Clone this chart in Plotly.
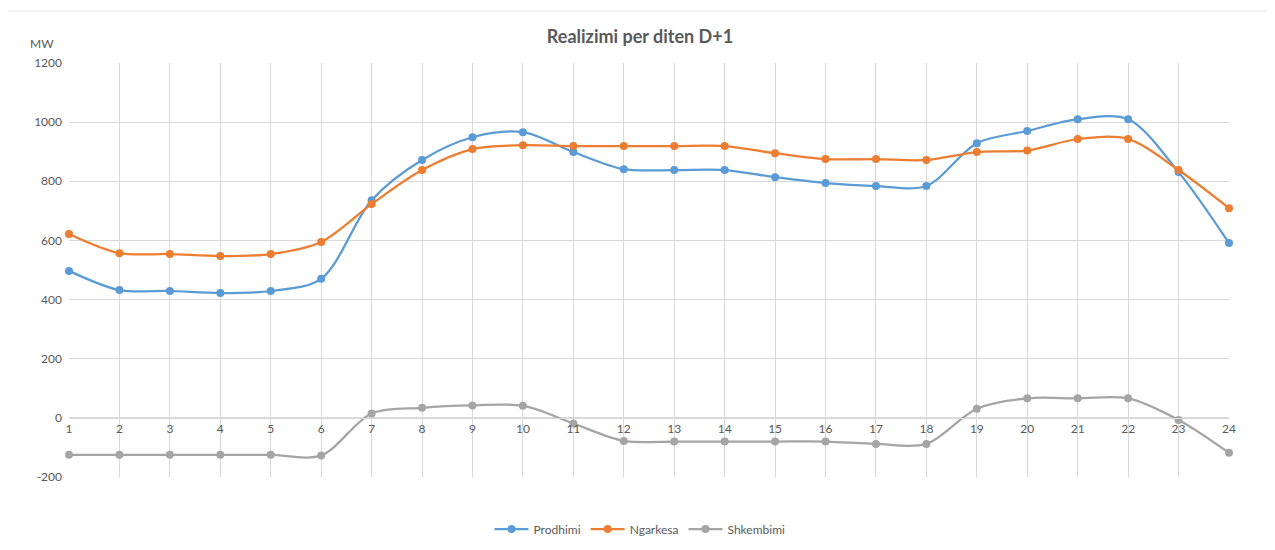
import plotly.graph_objects as go

hours = [str(h) for h in range(1, 25)]
prodhimi = [497, 432, 429, 422, 429, 470, 736, 872, 949, 966, 899, 841,
            838, 838, 814, 794, 784, 784, 929, 970, 1010, 1010, 831, 591]
ngarkesa = [622, 557, 554, 547, 554, 595, 723, 838, 909, 922, 919, 919,
            919, 919, 895, 875, 875, 872, 899, 904, 943, 943, 838, 709]
shkembimi = [-125, -125, -125, -125, -125, -127, 15, 34, 42, 41, -19, -78,
             -80, -80, -80, -80, -88, -88, 31, 66, 66, 66, -7, -118]
y_ticks = [-200, 0, 200, 400, 600, 800, 1000, 1200]
y_tick_labels = ["-200", "0", "200", "400", "600", "800", "1000", "1200"]

title_text = "Realizimi per diten D+1"
unit_text = "MW"

FONT = "Lato"
OFF = 8  # page body margin offset
W, H = 1275, 550
L, R, T, B = 69 - OFF, 1229 - OFF, 63 - OFF, 477 - OFF

fig = go.Figure()
series = [("Prodhimi", prodhimi, "#5B9BD5"),
          ("Ngarkesa", ngarkesa, "#ED7D31"),
          ("Shkembimi", shkembimi, "#A5A5A5")]
for name, vals, col in series:
    fig.add_trace(go.Scatter(
        x=hours, y=vals, name=name, mode="lines+markers",
        line=dict(color=col, width=2.25, shape="spline", smoothing=0.9),
        marker=dict(color=col, size=8),
        cliponaxis=False,
    ))

ymin, ymax = y_ticks[0], y_ticks[-1]
zero_pos = (0 - ymin) / (ymax - ymin)

fig.update_layout(
    width=W, height=H,
    margin=dict(l=L, r=W - R, t=T, b=H - B),
    paper_bgcolor="white", plot_bgcolor="white",
    font=dict(family=FONT, color="#595959", size=12),
    title=dict(text="<b>" + title_text + "</b>", x=(640 - OFF) / W, xanchor="center",
               y=1 - (37 - OFF) / H, yanchor="middle",
               font=dict(family=FONT, size=18, color="#595959")),
    showlegend=True,
    legend=dict(orientation="h", x=(640 - OFF) / W, xanchor="center", xref="container",
                y=1 - (529 - OFF) / H, yanchor="middle", yref="container",
                font=dict(family=FONT, size=12, color="#595959"),
                itemwidth=34, tracegroupgap=0),
    xaxis=dict(
        type="category", range=[0, len(hours) - 1],
        showgrid=True, gridcolor="#D9D9D9", gridwidth=1,
        showline=True, linecolor="#D9D9D9", linewidth=1,
        anchor="free", position=zero_pos,
        ticks="", tickfont=dict(size=12, color="#595959"),
        zeroline=False,
    ),
    yaxis=dict(
        range=[ymin, ymax], tickvals=y_ticks, ticktext=y_tick_labels,
        showgrid=True, gridcolor="#D9D9D9", gridwidth=1, zeroline=False,
        showline=False, ticks="", tickfont=dict(size=12, color="#595959"),
        ticklabelstandoff=6,
    ),
)

fig.add_annotation(text=unit_text, xref="paper", yref="paper",
                   x=(42 - OFF - L) / (R - L), y=1 + (T - (43 - OFF)) / (B - T),
                   showarrow=False, xanchor="center", yanchor="middle",
                   font=dict(family=FONT, size=12, color="#595959"))

fig.add_shape(type="rect", xref="paper", yref="paper",
              x0=(7 - OFF - L) / (R - L), x1=(1274 - OFF - L) / (R - L),
              y0=(B - 560) / (B - T), y1=(B - (11 - OFF)) / (B - T),
              line=dict(color="#E3E3E3", width=1), fillcolor="rgba(0,0,0,0)",
              layer="below")

fig.write_html("out.html")
